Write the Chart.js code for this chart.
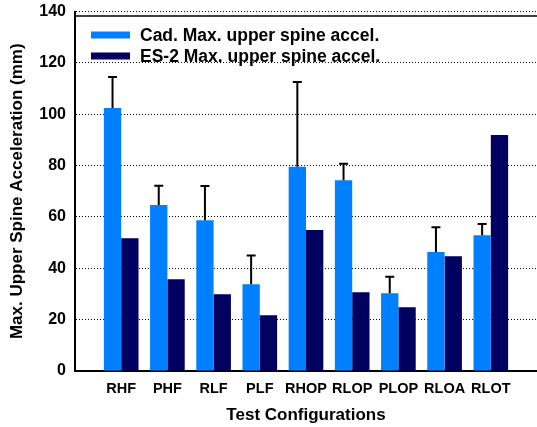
<!DOCTYPE html>
<html>
<head>
<meta charset="utf-8">
<script src="https://cdn.jsdelivr.net/npm/chart.js@4"></script>
<style>
  html, body { margin: 0; padding: 0; background: #fff; }
  #wrap { width: 537px; height: 427px; position: relative; }
</style>
</head>
<body>
<div id="wrap"><canvas id="chart"></canvas></div>
<script>
const configs = ['RHF', 'PHF', 'RLF', 'PLF', 'RHOP', 'RLOP', 'PLOP', 'RLOA', 'RLOT'];
const cadAccel = [102.4, 64.6, 58.7, 33.8, 79.5, 74.3, 30.3, 46.3, 52.9];
const cadError = [12.1, 7.5, 13.3, 11.2, 33.0, 6.4, 6.4, 9.7, 4.3];
const es2Accel = [51.7, 35.7, 29.9, 21.7, 54.9, 30.7, 24.8, 44.7, 91.9];
const yTicks = [0, 20, 40, 60, 80, 100, 120, 140];

const FONT = '"Liberation Sans", Arial, sans-serif';
Chart.defaults.font.family = FONT;
Chart.defaults.font.weight = 'bold';
Chart.defaults.font.size = 16;
Chart.defaults.color = '#000';

// empty slot on each side so the groups sit one full step in from the axes
const pad = arr => [null, ...arr, null];

// upward-only error bars with caps on the cadaver series
const errorBars = {
  id: 'errorBars',
  afterDatasetsDraw(chart) {
    const meta = chart.getDatasetMeta(0);
    const y = chart.scales.y;
    const ctx = chart.ctx;
    ctx.save();
    ctx.strokeStyle = '#000';
    ctx.lineWidth = 2;
    cadAccel.forEach((v, i) => {
      const bar = meta.data[i + 1];
      if (!bar) return;
      const y0 = y.getPixelForValue(v);
      const y1 = y.getPixelForValue(v + cadError[i]);
      ctx.beginPath();
      ctx.moveTo(bar.x, y0);
      ctx.lineTo(bar.x, y1);
      ctx.moveTo(bar.x - 4.5, y1);
      ctx.lineTo(bar.x + 4.5, y1);
      ctx.stroke();
    });
    ctx.restore();
  }
};

// solid frame line just under the top gridline, plus the boxed-in legend
const frameAndLegend = {
  id: 'frameAndLegend',
  afterDraw(chart) {
    const {ctx, chartArea} = chart;
    ctx.save();
    ctx.strokeStyle = '#000';
    ctx.lineWidth = 1.5;
    ctx.beginPath();
    ctx.moveTo(chartArea.left, chartArea.top + 4.5);
    ctx.lineTo(chartArea.right, chartArea.top + 4.5);
    ctx.stroke();

    ctx.font = 'bold 17.5px ' + FONT;
    ctx.textBaseline = 'middle';
    chart.data.datasets.forEach((ds, i) => {
      const cy = chartArea.top + 23.5 + i * 21;
      ctx.fillStyle = ds.backgroundColor;
      ctx.fillRect(chartArea.left + 16, cy - 3.5, 39, 7);
      ctx.fillStyle = '#000';
      ctx.fillText(ds.label, chartArea.left + 65, cy + 1);
    });
    ctx.restore();
  }
};

new Chart('chart', {
  type: 'bar',
  data: {
    labels: pad(configs).map(d => d || ''),
    datasets: [{
      label: 'Cad. Max. upper spine accel.',
      data: pad(cadAccel),
      backgroundColor: '#0080FF',
      borderWidth: 0,
      categoryPercentage: 0.75,
      barPercentage: 1.0
    }, {
      label: 'ES-2 Max. upper spine accel.',
      data: pad(es2Accel),
      backgroundColor: '#000060',
      borderWidth: 0,
      categoryPercentage: 0.75,
      barPercentage: 1.0
    }]
  },
  options: {
    responsive: true,
    maintainAspectRatio: false,
    animation: false,
    layout: {
      padding: {top: 11.5, right: 0, left: 0, bottom: 0}
    },
    scales: {
      x: {
        offset: false,
        grid: {display: false, drawTicks: false},
        border: {color: '#000', width: 2},
        ticks: {padding: 9, autoSkip: false, maxRotation: 0, font: {size: 14.5, weight: 'bold'}},
        title: {
          display: true,
          text: 'Test Configurations',
          padding: {top: 0, bottom: 1},
          font: {size: 17, weight: 'bold'}
        },
        afterFit: scale => {
          scale.height = 56;
          scale.paddingLeft = 0;
          scale.paddingRight = 0;
        }
      },
      y: {
        min: 0,
        max: 140,
        afterBuildTicks: scale => { scale.ticks = yTicks.map(v => ({value: v})); },
        grid: {
          color: '#000',
          lineWidth: 1,
          drawTicks: false
        },
        border: {color: '#000', width: 2, dash: [1, 2]},
        ticks: {padding: 9, font: {size: 16, weight: 'bold'}},
        title: {
          display: true,
          text: 'Max. Upper Spine Acceleration (mm)',
          padding: {top: 7, bottom: 0},
          font: {size: 17, weight: 'bold'}
        },
        afterFit: scale => {
          scale.width = 75;
          scale.paddingTop = 0;
          scale.paddingBottom = 0;
        }
      }
    },
    plugins: {
      legend: {display: false},
      tooltip: {enabled: false}
    }
  },
  plugins: [errorBars, frameAndLegend]
});
</script>
</body>
</html>
